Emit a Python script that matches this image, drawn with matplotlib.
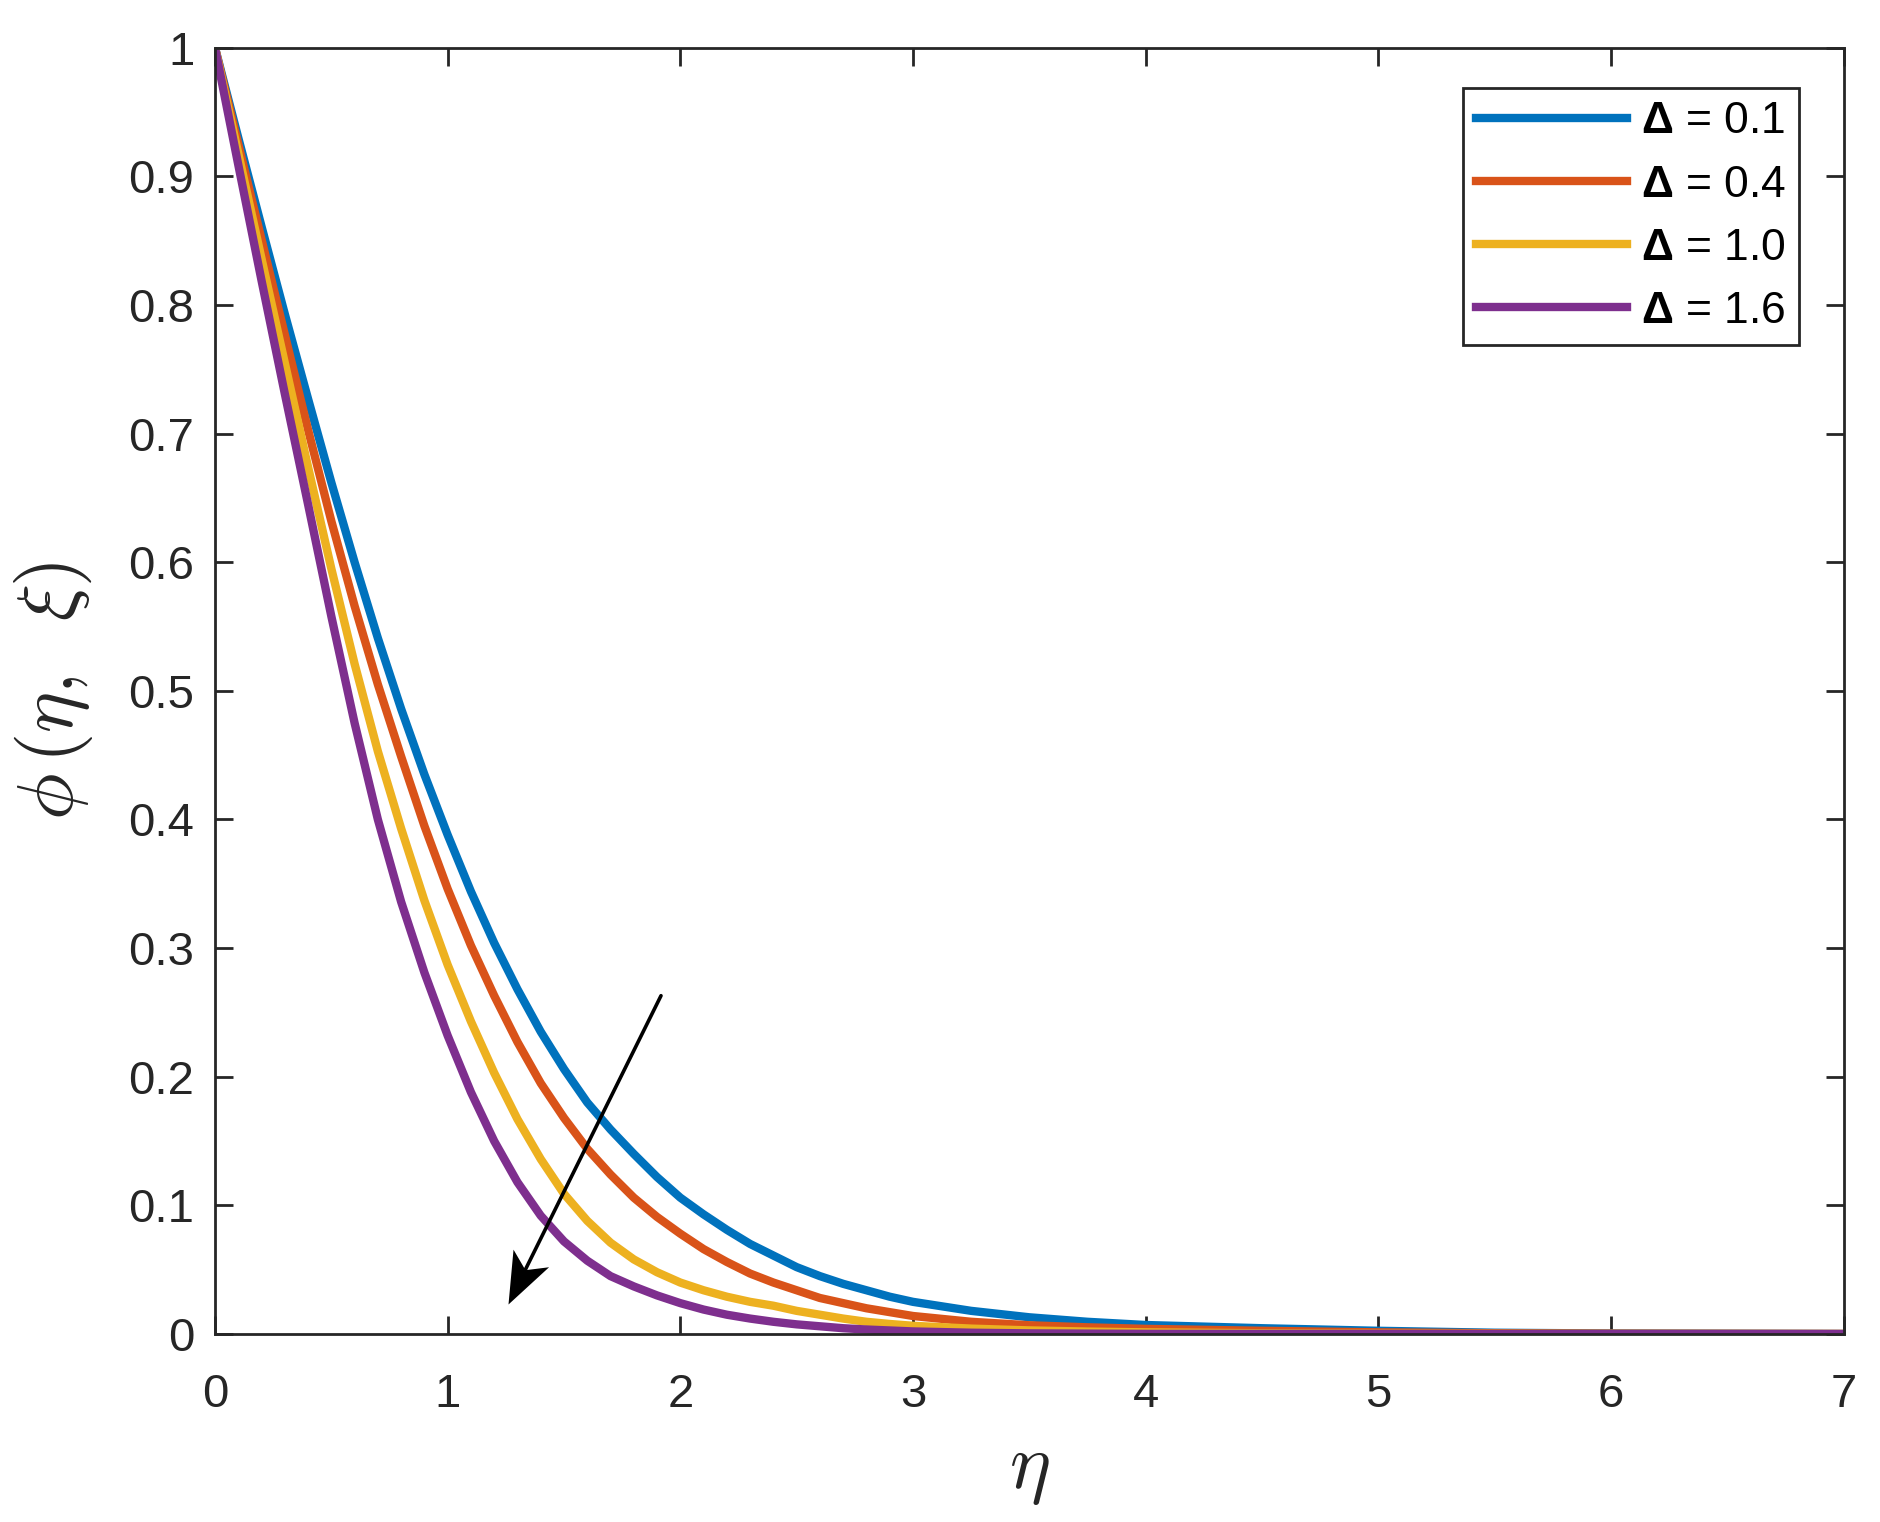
import numpy as np
import matplotlib
matplotlib.use("Agg")
import matplotlib.pyplot as plt
from matplotlib.ticker import FormatStrFormatter
from matplotlib.markers import MarkerStyle
from matplotlib.path import Path
from matplotlib.transforms import Affine2D

plt.rcParams["font.family"] = ["Liberation Sans", "DejaVu Sans"]
plt.rcParams["mathtext.fontset"] = "custom"
plt.rcParams["mathtext.rm"] = "Liberation Sans"
plt.rcParams["mathtext.bf"] = "Liberation Sans:bold"

# values (eta, phi) for each Delta
eta_d01 = [0, 0.1, 0.2, 0.3, 0.4, 0.5, 0.6, 0.7, 0.8, 0.9, 1.0, 1.1, 1.2, 1.3, 1.4,
           1.5, 1.6, 1.7, 1.8, 1.9, 2.0, 2.1, 2.2, 2.3, 2.4, 2.5, 2.6, 2.7, 2.8, 2.9,
           3.0, 3.25, 3.5, 3.75, 4.0, 4.5, 5.0, 5.5, 6.0, 7.0]
phi_d01 = [1.0, 0.930, 0.861, 0.793, 0.727, 0.662, 0.600, 0.541, 0.486, 0.435, 0.388,
           0.344, 0.304, 0.268, 0.235, 0.206, 0.180, 0.159, 0.140, 0.122, 0.106, 0.093,
           0.081, 0.070, 0.061, 0.052, 0.045, 0.039, 0.034, 0.029, 0.025, 0.018, 0.013,
           0.0095, 0.007, 0.0045, 0.0025, 0.001, 0.0004, 0.0]

eta_d04 = [0, 0.1, 0.2, 0.3, 0.4, 0.5, 0.6, 0.7, 0.8, 0.9, 1.0, 1.1, 1.2, 1.3, 1.4,
           1.5, 1.6, 1.7, 1.8, 1.9, 2.0, 2.1, 2.2, 2.3, 2.4, 2.5, 2.6, 2.7, 2.8, 2.9,
           3.0, 3.25, 3.5, 3.75, 4.0, 4.5, 5.0, 5.5, 6.0, 7.0]
phi_d04 = [1.0, 0.925, 0.851, 0.777, 0.703, 0.632, 0.566, 0.505, 0.449, 0.395, 0.346,
           0.302, 0.263, 0.227, 0.195, 0.168, 0.144, 0.124, 0.106, 0.091, 0.078, 0.066,
           0.056, 0.047, 0.040, 0.034, 0.028, 0.024, 0.020, 0.017, 0.014, 0.0095, 0.0068,
           0.0052, 0.004, 0.0025, 0.0013, 0.0006, 0.0002, 0.0]

eta_d10 = [0, 0.1, 0.2, 0.3, 0.4, 0.5, 0.6, 0.7, 0.8, 0.9, 1.0, 1.1, 1.2, 1.3, 1.4,
           1.5, 1.6, 1.7, 1.8, 1.9, 2.0, 2.1, 2.2, 2.3, 2.4, 2.5, 2.6, 2.7, 2.8, 2.9,
           3.0, 3.25, 3.5, 3.75, 4.0, 4.5, 5.0, 7.0]
phi_d10 = [1.0, 0.918, 0.836, 0.755, 0.674, 0.595, 0.521, 0.453, 0.393, 0.337, 0.287,
           0.243, 0.203, 0.167, 0.136, 0.109, 0.088, 0.071, 0.058, 0.048, 0.040, 0.034,
           0.029, 0.025, 0.022, 0.018, 0.015, 0.012, 0.0095, 0.0078, 0.0064, 0.0042,
           0.0028, 0.0019, 0.0013, 0.0006, 0.0002, 0.0]

eta_d16 = [0, 0.1, 0.2, 0.3, 0.4, 0.5, 0.6, 0.7, 0.8, 0.9, 1.0, 1.1, 1.2, 1.3, 1.4,
           1.5, 1.6, 1.7, 1.8, 1.9, 2.0, 2.1, 2.2, 2.3, 2.4, 2.5, 2.6, 2.7, 2.8,
           3.0, 3.25, 3.5, 4.0, 7.0]
phi_d16 = [1.0, 0.909, 0.819, 0.731, 0.645, 0.558, 0.475, 0.400, 0.336, 0.281, 0.232,
           0.188, 0.150, 0.118, 0.092, 0.072, 0.057, 0.045, 0.037, 0.030, 0.024, 0.019,
           0.015, 0.012, 0.0095, 0.0075, 0.006, 0.0045, 0.0035, 0.002, 0.001, 0.0005,
           0.0001, 0.0]

delta_vals = ["0.1", "0.4", "1.0", "1.6"]
colors = ["#0072BD", "#D95319", "#EDB120", "#7E2F8E"]
series = [(eta_d01, phi_d01), (eta_d04, phi_d04), (eta_d10, phi_d10), (eta_d16, phi_d16)]

# trend arrow (tail -> tip), in data units
arrow_tail = (1.917, 0.263)
arrow_tip = (1.260, 0.023)

fig = plt.figure(figsize=(9.4, 7.61), dpi=200)
ax = fig.add_axes([0.11436, 0.12352, 0.86628, 0.84514])

for (x, y), dv, col in zip(series, delta_vals, colors):
    ax.plot(x, y, color=col, lw=3.0, label=r"$\mathbf{\Delta}$ = " + dv)

ax.set_xlim(0, 7)
ax.set_ylim(0, 1)

# shaft, stopping at the notch of the head
ax.annotate("", xy=arrow_tip, xytext=arrow_tail,
            arrowprops=dict(arrowstyle="-", color="black", lw=1.3,
                            shrinkA=0, shrinkB=12))
# head with swept-back barbs, rotated to the arrow direction on screen
p0 = ax.transData.transform(arrow_tail)
p1 = ax.transData.transform(arrow_tip)
ang = np.degrees(np.arctan2(p1[1] - p0[1], p1[0] - p0[0]))
head = Path([(0, 0), (-1, 0.386), (-0.745, 0), (-1, -0.386), (0, 0)],
            [Path.MOVETO, Path.LINETO, Path.LINETO, Path.LINETO, Path.CLOSEPOLY])
ax.plot([arrow_tip[0]], [arrow_tip[1]], linestyle="none", color="black",
        marker=MarkerStyle(head, transform=Affine2D().rotate_deg(ang)),
        markersize=37, markeredgewidth=0)

ax.set_xticks(np.arange(0, 8, 1))
ax.set_yticks(np.arange(0, 1.01, 0.1))
ax.yaxis.set_major_formatter(FormatStrFormatter("%g"))

dark = "#262626"
for sp in ax.spines.values():
    sp.set_color(dark)
    sp.set_linewidth(1.0)
ax.tick_params(direction="in", length=6.5, width=1.0, colors=dark,
               labelsize=17, top=True, right=True)
ax.tick_params(axis="x", pad=14)
ax.tick_params(axis="y", pad=7.5)

ax.set_xlabel(r"$\eta$", fontsize=28, math_fontfamily="cm", color=dark, labelpad=6)
ax.set_ylabel(r"$\phi\,(\eta,\;\;\xi)$", fontsize=28, math_fontfamily="cm",
              color=dark, labelpad=12)

leg = ax.legend(loc="upper right", bbox_to_anchor=(0.9727, 0.9687), borderaxespad=0,
                fontsize=16, fancybox=False, framealpha=1, edgecolor=dark,
                handlelength=3.4, handletextpad=0.3, labelspacing=0.5,
                borderpad=0.3)
leg.get_frame().set_linewidth(1.0)

fig.savefig("out.png", dpi=200)
